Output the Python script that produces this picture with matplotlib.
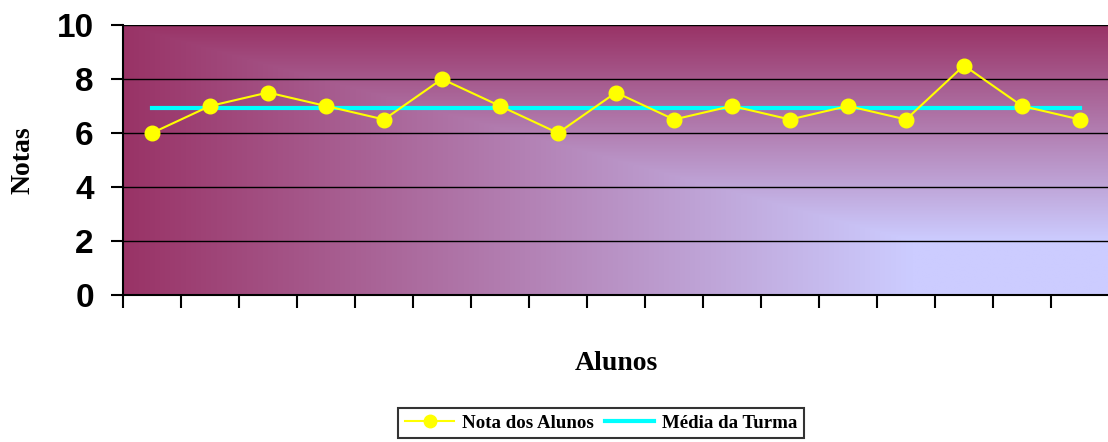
import numpy as np
import matplotlib.pyplot as plt
from matplotlib.colors import to_rgb

# notas de cada aluno e a média da turma
alunos = list(range(1, 18))
notas = [6, 7, 7.5, 7, 6.5, 8, 7, 6, 7.5, 6.5, 7, 6.5, 7, 6.5, 8.5, 7, 6.5]
media = sum(notas) / len(notas)
yticks = [0, 2, 4, 6, 8, 10]

serif = ['Liberation Serif', 'DejaVu Serif']
sans = ['Liberation Sans', 'DejaVu Sans']

fig = plt.figure(figsize=(11.08, 4.42), dpi=100)
ax = fig.add_axes([123 / 1108, 1 - 295 / 442, 986 / 1108, 270 / 442])

# fundo em degradê a partir do canto inferior direito
c0 = np.array(to_rgb('#993366'))
c1 = np.array(to_rgb('#CCCCFF'))
nx, ny = 500, 250
xf = np.linspace(0, 1, nx)[None, :]
yf = np.linspace(1, 0, ny)[:, None]
t = np.clip(np.minimum(xf, 1 - yf) / 0.8, 0, 1)
img = c0 + (c1 - c0) * t[..., None]
ax.imshow(img, extent=(0.5, 17.5, 0, 10), aspect='auto', zorder=-2,
          interpolation='bilinear')

ax.plot(alunos, notas, color='#FFFF00', linewidth=1.5, marker='o',
        markersize=10.5, label='Nota dos Alunos', zorder=3)
ax.plot(alunos, [media] * len(alunos), color='#00FFFF', linewidth=3,
        label='Média da Turma', zorder=2)

ax.set_xlim(0.5, 17.5)
ax.set_ylim(0, 10)
ax.set_yticks(yticks, labels=[str(v) for v in yticks], family=sans,
              fontweight='bold', fontsize=24)
ax.set_xticks(np.arange(0.5, 17, 1))
ax.set_xticklabels([])
ax.yaxis.grid(True, color='black', linewidth=1)
ax.tick_params(axis='y', length=9, width=1.5, pad=12, labelsize=24)
ax.tick_params(axis='x', length=9, width=1.5)

for s in ['top', 'right']:
    ax.spines[s].set_visible(False)
for s in ['left', 'bottom']:
    ax.spines[s].set_linewidth(1.5)

fig.text(23 / 1108, 1 - 160 / 442, 'Notas', rotation=90, ha='center',
         va='center', family=serif, fontweight='bold', fontsize=20)
fig.text(616 / 1108, 1 - 370 / 442, 'Alunos', ha='center', va='baseline',
         family=serif, fontweight='bold', fontsize=20)

leg = fig.legend(loc='upper center', bbox_to_anchor=(601 / 1108, 1 - 408 / 442),
                 ncol=2, frameon=True, fancybox=False, handlelength=2.6,
                 handletextpad=0.4, columnspacing=0.6, borderpad=0.35,
                 borderaxespad=0,
                 prop={'family': serif, 'weight': 'bold', 'size': 13.6})
leg.get_frame().set_edgecolor('black')
leg.get_frame().set_linewidth(1.5)
leg.legend_handles[0].set_markersize(9)

fig.savefig('out.png', dpi=100)
